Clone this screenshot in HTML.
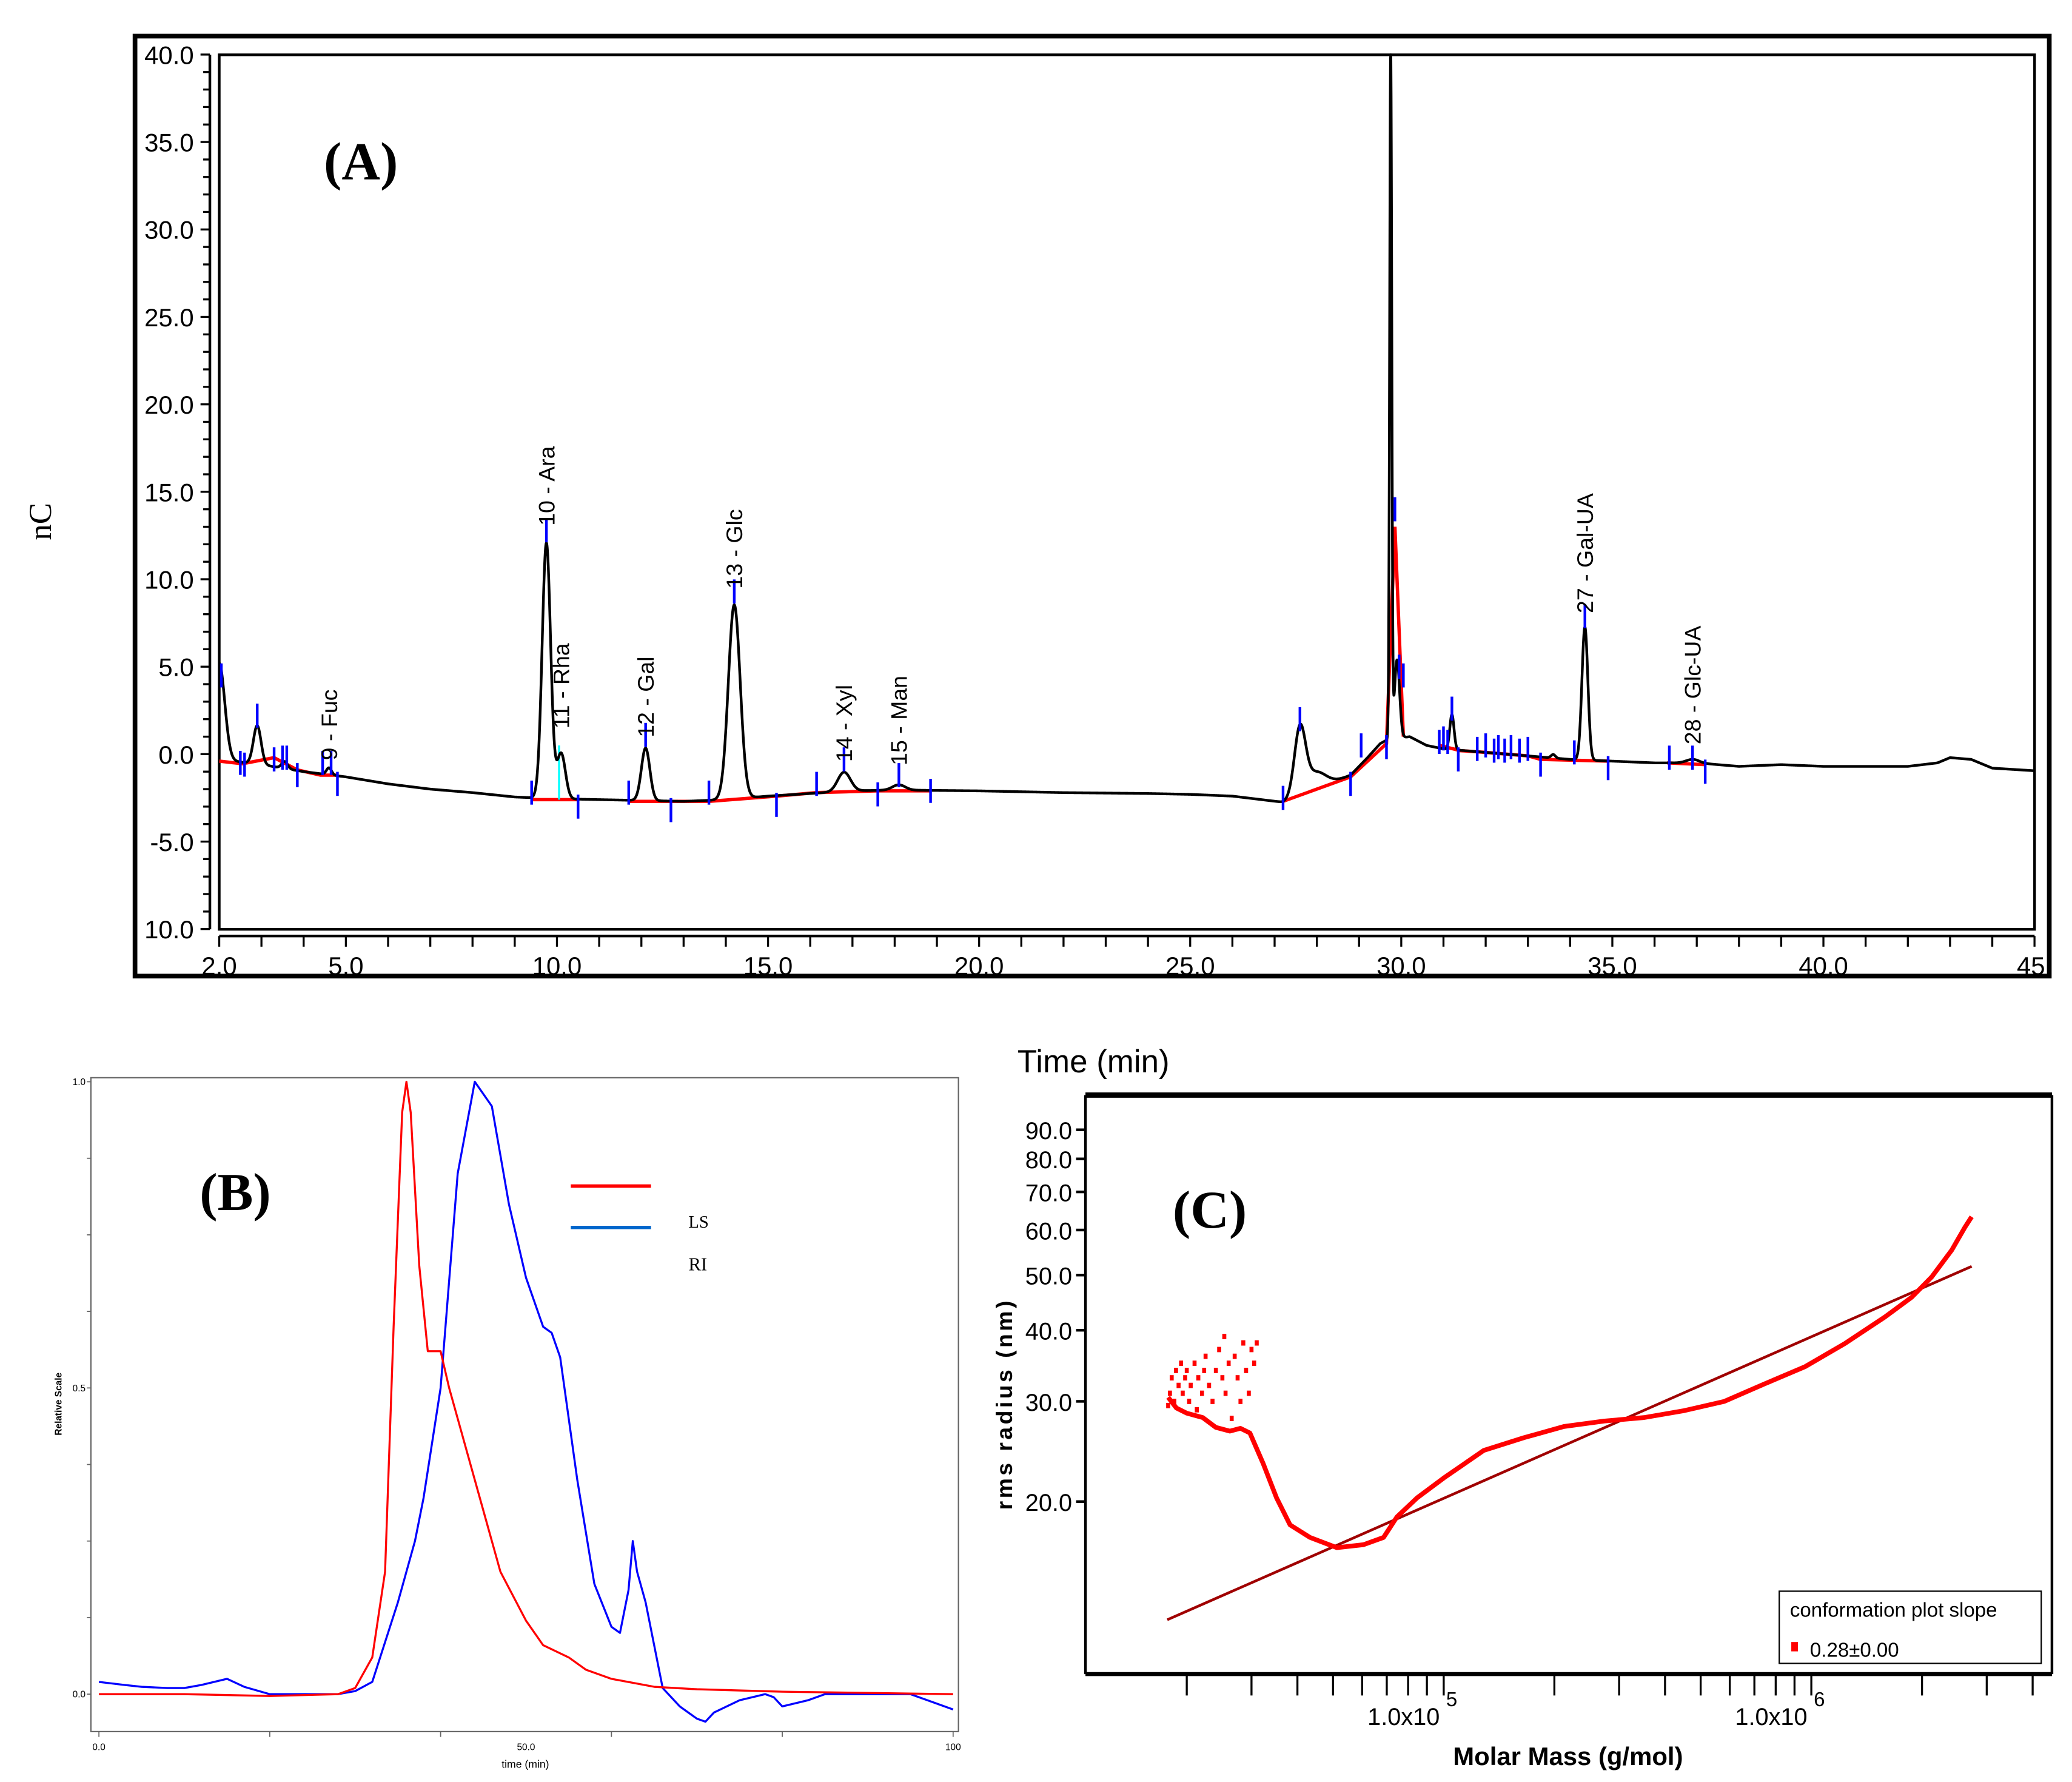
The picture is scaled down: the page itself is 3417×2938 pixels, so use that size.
<!DOCTYPE html>
<html><head><meta charset="utf-8">
<style>
html,body{margin:0;padding:0;background:#fff;}
svg{display:block;}
text{font-family:"Liberation Sans",sans-serif;}
.serif{font-family:"Liberation Serif",serif;}
</style></head>
<body>
<svg id="fig" width="3417" height="2938" viewBox="0 0 1550 1332.7" preserveAspectRatio="none" xmlns="http://www.w3.org/2000/svg">
  <g id="pa">
    <rect x="101" y="27" width="1432" height="703" fill="none" stroke="#000" stroke-width="3.5"/>
    <rect x="164" y="41" width="1358" height="654" fill="none" stroke="#000" stroke-width="2"/>
    <line x1="157" y1="41" x2="157" y2="695" stroke="#000" stroke-width="2"/>
    <line x1="164" y1="700" x2="1522" y2="700" stroke="#000" stroke-width="2"/>
    <text class="serif" x="270" y="134" font-size="40" font-weight="bold" text-anchor="middle">(A)</text>
    <text class="serif" x="0" y="0" font-size="24" text-anchor="middle" transform="translate(38,390) rotate(-90)">nC</text>
    <text x="818" y="802" font-size="24" text-anchor="middle">Time (min)</text>
    <g id="paTicks"></g>
    <g id="paData"></g>
  </g>
  <g id="pb">
    <rect x="68" y="806" width="649" height="489" fill="none" stroke="#666" stroke-width="1"/>
    <text class="serif" x="176" y="905" font-size="40" font-weight="bold" text-anchor="middle">(B)</text>
    <text x="0" y="0" font-size="7" font-weight="bold" text-anchor="middle" transform="translate(46,1050) rotate(-90)">Relative Scale</text>
    <text x="393" y="1322" font-size="8" text-anchor="middle">time (min)</text>
    <line x1="427" y1="887" x2="487" y2="887" stroke="#f00" stroke-width="2.5"/>
    <line x1="427" y1="918" x2="487" y2="918" stroke="#06c" stroke-width="2.5"/>
    <text class="serif" x="515" y="918" font-size="13">LS</text>
    <text class="serif" x="515" y="950" font-size="14">RI</text>
    <g id="pbTicks"></g>
    <g id="pbData"></g>
  </g>
  <g id="pc">
    <line x1="812" y1="819" x2="1535" y2="819" stroke="#000" stroke-width="4"/>
    <line x1="812" y1="1252" x2="1535" y2="1252" stroke="#000" stroke-width="3"/>
    <line x1="812" y1="819" x2="812" y2="1252" stroke="#000" stroke-width="2"/>
    <line x1="1535" y1="819" x2="1535" y2="1252" stroke="#000" stroke-width="2"/>
    <text class="serif" x="905" y="918" font-size="40" font-weight="bold" text-anchor="middle">(C)</text>
    <text x="0" y="0" font-size="17" font-weight="bold" letter-spacing="2" text-anchor="middle" transform="translate(757,1050) rotate(-90)">rms radius (nm)</text>
    <text x="1173" y="1320" font-size="19" font-weight="bold" text-anchor="middle">Molar Mass (g/mol)</text>
    <rect x="1331" y="1190" width="196" height="54" fill="#fff" stroke="#000" stroke-width="1"/>
    <text x="1339" y="1209" font-size="15">conformation plot slope</text>
    <rect x="1340" y="1228" width="5" height="7" fill="#f00"/>
    <text x="1354" y="1239" font-size="15">0.28±0.00</text>
    <g id="pcTicks"></g>
    <g id="pcData"></g>
  </g>
</svg>
<script>
// ===== Panel A data =====
const aBaseT = [2.0,3,4,5,6,7,8,9,10,11,12,13,14,15,16,17,18,20,22,24,25,26,27.2,28,28.8,29.2,29.5,29.65,30.2,30.6,31,32,33,34,35,36,37,38,39,40,42,42.7,43,43.5,44,45];
const aBaseV = [-0.3,-0.6,-1.0,-1.3,-1.7,-2.0,-2.2,-2.45,-2.55,-2.6,-2.65,-2.7,-2.6,-2.4,-2.25,-2.1,-2.05,-2.1,-2.2,-2.25,-2.3,-2.4,-2.75,-2.0,-1.2,-0.2,0.6,0.8,1.0,0.5,0.3,0.1,-0.1,-0.3,-0.4,-0.5,-0.5,-0.7,-0.6,-0.7,-0.7,-0.5,-0.2,-0.3,-0.8,-0.95];
const aPeakT = [2.0,2.9,3.55,4.6,9.75,10.1,12.1,14.2,16.8,18.1,27.6,27.95,29.75,29.9,31.2,33.6,34.35,36.9];
const aPeakH = [5.5,2.2,0.4,0.4,14.6,2.6,3.0,11.1,1.1,0.3,3.7,1.0,39.5,4.5,2.0,0.2,7.6,0.2];
const aPeakW = [0.13,0.09,0.07,0.06,0.1,0.1,0.1,0.14,0.15,0.15,0.13,0.25,0.025,0.06,0.05,0.05,0.07,0.15];
const aTickLabels = ["40.0","35.0","30.0","25.0","20.0","15.0","10.0","5.0","0.0","-5.0","10.0"];
const aTickVals = [40,35,30,25,20,15,10,5,0,-5,-10];
const aXTickLabels = ["2.0","5.0","10.0","15.0","20.0","25.0","30.0","35.0","40.0","45."];
const aXTickVals = [2,5,10,15,20,25,30,35,40,45];
const aRedSegs = [
 [[2.0,-0.4],[2.55,-0.55],[3.3,-0.2],[3.85,-0.9],[4.4,-1.2],[4.8,-1.2]],
 [[9.4,-2.6],[10.5,-2.6]],
 [[11.7,-2.7],[12.6,-2.7],[13.6,-2.7],[15.2,-2.4],[16.15,-2.2],[17.6,-2.1],[18.85,-2.1]],
 [[27.2,-2.7],[28.8,-1.3],[29.65,0.6],[29.85,13],[30.05,1.0]],
 [[30.9,0.5],[31.4,0.2],[32,0.1],[33,-0.1],[33.3,-0.3],[34.9,-0.4]],
 [[36.3,-0.5],[37.2,-0.6]]
];
const aBlueT = [2.05,2.5,2.6,2.9,3.3,3.5,3.6,3.85,4.45,4.65,4.8,9.4,9.75,10.5,11.7,12.1,12.7,13.6,14.2,15.2,16.15,16.8,17.6,18.1,18.85,27.2,27.6,28.8,29.05,29.65,29.85,29.95,30.05,30.9,31.0,31.1,31.2,31.35,31.8,32.0,32.2,32.3,32.45,32.6,32.8,33.0,33.3,34.1,34.35,34.9,36.35,36.9,37.2];
const aBlueV = [4.5,-0.5,-0.6,2.2,-0.3,-0.2,-0.2,-1.2,-0.5,-0.5,-1.7,-2.2,12.8,-3.0,-2.2,1.1,-3.2,-2.2,9.3,-2.9,-1.7,-0.3,-2.3,-1.2,-2.1,-2.5,2.0,-1.7,0.5,0.4,14.0,5.0,4.5,0.7,0.9,0.7,2.6,-0.3,0.3,0.5,0.2,0.4,0.2,0.4,0.2,0.3,-0.6,0.1,7.9,-0.8,-0.2,-0.2,-1.0];
const aPeakLabels = ["9 - Fuc","10 - Ara","11 - Rha","12 - Gal","13 - Glc","14 - Xyl","15 - Man","27 - Gal-UA","28 - Glc-UA"];
const aPeakLabelT = [4.6,9.75,10.1,12.1,14.2,16.8,18.1,34.35,36.9];
const aPeakLabelV = [-0.8,12.6,1.0,0.5,9.0,-0.9,-1.1,7.6,0.1];

// ===== Panel B data =====
const bLsT = [0,10,20,28,30,32,33.5,34.5,35.5,36,36.5,37.5,38.5,39.5,40,41,43,45,47,50,52,55,57,60,65,70,80,90,100];
const bLsV = [0.0,0.0,-0.003,0.0,0.01,0.06,0.2,0.6,0.95,1.0,0.95,0.7,0.56,0.56,0.56,0.5,0.4,0.3,0.2,0.12,0.08,0.06,0.04,0.025,0.012,0.008,0.004,0.002,0.0];
const bRiT = [0,3,5,8,10,12,15,17,20,25,28,30,32,35,37,38,40,42,44,46,48,50,52,53,54,56,58,60,61,62,62.5,63,64,66,68,70,71,72,75,78,79,80,83,85,90,95,100];
const bRiV = [0.02,0.015,0.012,0.01,0.01,0.015,0.025,0.012,0.0,0.0,0.0,0.005,0.02,0.15,0.25,0.32,0.5,0.85,1.0,0.96,0.8,0.68,0.6,0.59,0.55,0.35,0.18,0.11,0.1,0.17,0.25,0.2,0.15,0.01,-0.02,-0.04,-0.045,-0.03,-0.01,0.0,-0.005,-0.02,-0.01,0.0,0.0,0.0,-0.025];
const bYTickLabels = ["1.0","0.5","0.0"];
const bYTickVals = [1.0,0.5,0.0];
const bXTickLabels = ["0.0","50.0","100"];
const bXTickVals = [0,50,100];

// ===== Panel C data =====
const cYTickLabels = ["90.0","80.0","70.0","60.0","50.0","40.0","30.0","20.0"];
const cYTickVals = [90,80,70,60,50,40,30,20];
const cXMinor = [20000,30000,40000,50000,60000,70000,80000,90000,200000,300000,400000,500000,600000,700000,800000,900000,2000000,3000000,4000000];
const cFitM = [17700,2730000];
const cFitR = [12.4,51.8];
const cCurveM = [17800,18750,20000,22100,24000,26200,28000,29700,32300,35100,38200,43300,51200,60500,68600,74600,84600,100000,128500,165300,212400,273000,351000,451600,580000,746000,960000,1233000,1585000,1874000,2124000,2409000,2618000,2730000];
const cCurveR = [30.5,29.2,28.6,28.1,27.0,26.6,26.9,26.4,23.3,20.3,18.2,17.3,16.6,16.8,17.3,18.8,20.3,22.0,24.6,25.9,27.1,27.7,28.1,28.9,30.0,32.2,34.5,37.9,42.2,45.7,49.6,55.3,60.7,63.3];
const cClusterM = [17800,18000,18200,18500,18700,19000,19300,19500,19800,20000,20300,20500,21000,21300,21500,22000,22300,22500,23000,23500,24000,24500,25000,25300,25500,26000,26500,27000,27500,28000,28500,29000,29500,30000,30500,31000];
const cClusterR = [29.5,31,33,30,34,32,35,31,33,34,30,32,35,29,33,31,34,36,32,30,34,37,33,39,31,35,28,36,33,30,38,34,31,37,35,38];

const NS="http://www.w3.org/2000/svg";
function mk(tag,attrs,parent){const e=document.createElementNS(NS,tag);for(const k in attrs)e.setAttribute(k,attrs[k]);parent.appendChild(e);return e;}

const xA=t=>164+(t-2)*31.58, yA=v=>564-v*13.08;
const xB=t=>74+t*6.39, yB=v=>1267-v*458;
const xC=m=>1080+(Math.log10(m)-5)*275, yC=r=>1123-(Math.log10(r)-Math.log10(20))*425.7;

// ---- Panel A ----
const paT=document.getElementById('paTicks'), paD=document.getElementById('paData');
for(let v=-10;v<=40;v++){
  const e=mk('line',{x1:157,x2:(v%5===0?150:152),y1:yA(v),y2:yA(v),stroke:'#000','stroke-width':1.5},paT);
  
  
}
aTickVals.forEach((v,i)=>{
  const e=mk('text',{x:145,y:yA(v)+7,'font-size':19,'text-anchor':'end'},paT);e.textContent=aTickLabels[i];
  
  
});
for(let t=2;t<=45;t++){
  const e=mk('line',{x1:xA(t),x2:xA(t),y1:700,y2:708,stroke:'#000','stroke-width':1.5},paT);
  
  
}
aXTickVals.forEach((v,i)=>{
  const e=mk('text',{x:xA(v),y:729,'font-size':19,'text-anchor':'middle'},paT);e.textContent=aXTickLabels[i];
  
  
});
function baseAt(t){for(let i=0;i<aBaseT.length-1;i++){if(t<=aBaseT[i+1]){const f=(t-aBaseT[i])/(aBaseT[i+1]-aBaseT[i]);return aBaseV[i]+f*(aBaseV[i+1]-aBaseV[i]);}}return aBaseV[aBaseV.length-1];}
let d='';
for(let t=2;t<=45.0001;t+=0.005){
  let v=baseAt(t);
  for(let k=0;k<aPeakT.length;k++){const z=(t-aPeakT[k])/aPeakW[k];if(Math.abs(z)<8)v+=aPeakH[k]*Math.exp(-0.5*z*z);}
  let y=Math.max(41,yA(v));
  d+=(d?'L':'M')+xA(t).toFixed(2)+' '+y.toFixed(2);
}
aRedSegs.forEach(seg=>{
  const p=mk('polyline',{points:seg.map(q=>xA(q[0])+','+yA(q[1])).join(' '),fill:'none',stroke:'#f00','stroke-width':2.5},paD);
  
  
});
const cy=mk('line',{x1:xA(10.05),x2:xA(10.05),y1:yA(-2.6),y2:yA(0.5),stroke:'#0ff','stroke-width':1.5},paD);


const ch=mk('path',{d:d,fill:'none',stroke:'#000','stroke-width':2,'stroke-linejoin':'round'},paD);


aBlueT.forEach((t,i)=>{
  const e=mk('line',{x1:xA(t),x2:xA(t),y1:yA(aBlueV[i])-9,y2:yA(aBlueV[i])+9,stroke:'#00f','stroke-width':2},paD);
  
  
});
aPeakLabels.forEach((s,i)=>{
  const x=xA(aPeakLabelT[i])+6, y=yA(aPeakLabelV[i])-6;
  const e=mk('text',{x:0,y:0,'font-size':17,transform:`translate(${x},${y}) rotate(-90)`},paD);e.textContent=s;
  
  
});

// ---- Panel B ----
const pbT=document.getElementById('pbTicks'), pbD=document.getElementById('pbData');
for(let v=0;v<=1.0001;v+=0.125){
  const e=mk('line',{x1:68,x2:65,y1:yB(v),y2:yB(v),stroke:'#666','stroke-width':0.8},pbT);
  
  
}
bYTickVals.forEach((v,i)=>{
  const e=mk('text',{x:64,y:yB(v)+2.5,'font-size':7,'text-anchor':'end'},pbT);e.textContent=bYTickLabels[i];
  
  
});
for(let t=0;t<=100;t+=20){
  const e=mk('line',{x1:xB(t),x2:xB(t),y1:1295,y2:1299,stroke:'#666','stroke-width':0.8},pbT);
  
  
}
bXTickVals.forEach((v,i)=>{
  const e=mk('text',{x:xB(v),y:1309,'font-size':7,'text-anchor':'middle'},pbT);e.textContent=bXTickLabels[i];
  
  
});
const ri=mk('polyline',{points:bRiT.map((t,i)=>xB(t)+','+yB(bRiV[i])).join(' '),fill:'none',stroke:'#00f','stroke-width':1.5,'stroke-linejoin':'round'},pbD);


const ls=mk('polyline',{points:bLsT.map((t,i)=>xB(t)+','+yB(bLsV[i])).join(' '),fill:'none',stroke:'#f00','stroke-width':1.5,'stroke-linejoin':'round'},pbD);



// ---- Panel C ----
const pcT=document.getElementById('pcTicks'), pcD=document.getElementById('pcData');
cYTickVals.forEach((v,i)=>{
  const l=mk('line',{x1:805,x2:812,y1:yC(v),y2:yC(v),stroke:'#000','stroke-width':2},pcT);
  
  
  const e=mk('text',{x:802,y:yC(v)+7,'font-size':18,'text-anchor':'end'},pcT);e.textContent=cYTickLabels[i];
  
  
});
cXMinor.concat([100000,1000000]).forEach(m=>{
  const e=mk('line',{x1:xC(m),x2:xC(m),y1:1252,y2:1268,stroke:'#000','stroke-width':1.5},pcT);
  
  
});
[[100000,'5'],[1000000,'6']].forEach(p=>{
  const e=mk('text',{x:xC(p[0])-30,y:1290,'font-size':18,'text-anchor':'middle'},pcT);e.textContent='1.0x10';
  
  
  const s=mk('text',{x:xC(p[0])+6,y:1276,'font-size':15,'text-anchor':'middle'},pcT);s.textContent=p[1];
  
  
});
const fit=mk('line',{x1:xC(cFitM[0]),y1:yC(cFitR[0]),x2:xC(cFitM[1]),y2:yC(cFitR[1]),stroke:'#a00000','stroke-width':2},pcD);


cClusterM.forEach((m,i)=>{
  const e=mk('rect',{x:xC(m)-1.5,y:yC(cClusterR[i])-2,width:3,height:4,fill:'#f00'},pcD);
  
  
});
const cc=mk('polyline',{points:cCurveM.map((m,i)=>xC(m)+','+yC(cCurveR[i])).join(' '),fill:'none',stroke:'#f00','stroke-width':3.5,'stroke-linejoin':'round'},pcD);


</script>
</body></html>
